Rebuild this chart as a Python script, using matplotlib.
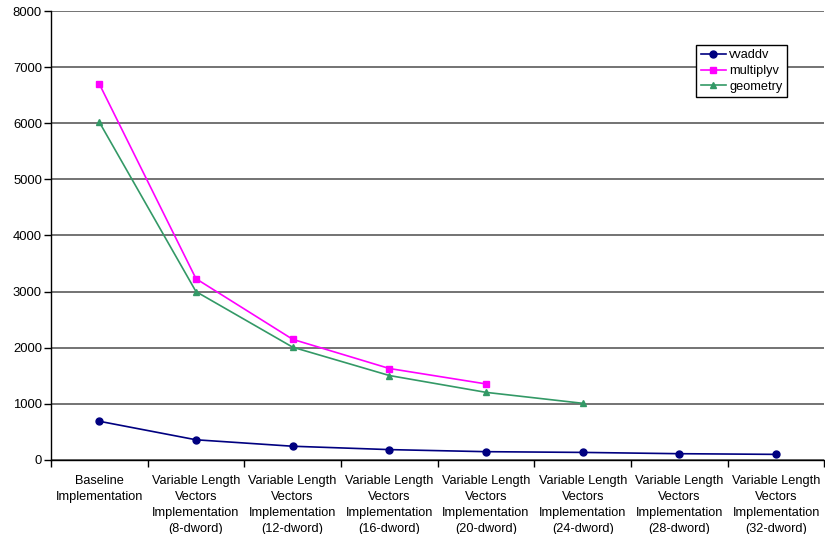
import numpy as np
import matplotlib.pyplot as plt
from matplotlib.ticker import FixedLocator, NullFormatter

plt.rcParams['font.family'] = ['Liberation Sans', 'DejaVu Sans']

categories = [
    "Baseline\nImplementation",
    "Variable Length\nVectors\nImplementation\n(8-dword)",
    "Variable Length\nVectors\nImplementation\n(12-dword)",
    "Variable Length\nVectors\nImplementation\n(16-dword)",
    "Variable Length\nVectors\nImplementation\n(20-dword)",
    "Variable Length\nVectors\nImplementation\n(24-dword)",
    "Variable Length\nVectors\nImplementation\n(28-dword)",
    "Variable Length\nVectors\nImplementation\n(32-dword)",
]
vvaddv = [690, 360, 245, 185, 148, 135, 112, 100]
multiplyv = [6700, 3230, 2150, 1630, 1355]
geometry = [6020, 3000, 2010, 1505, 1205, 1010]

fig = plt.figure(figsize=(8.25, 5.34), dpi=100)
ax = fig.add_axes([0.0618, 0.1386, 0.9375, 0.8408])

x = np.arange(len(categories))
ax.plot(x, vvaddv, color="#000080", marker="o", markersize=5, lw=1.2, label="vvaddv")
ax.plot(x[:len(multiplyv)], multiplyv, color="#FF00FF", marker="s", markersize=5, lw=1.2, label="multiplyv")
ax.plot(x[:len(geometry)], geometry, color="#339966", marker="^", markersize=5, lw=1.2, label="geometry")

ax.set_xlim(-0.5, len(categories) - 0.5)
ax.set_ylim(0, 8000)
ax.set_yticks(np.arange(0, 8001, 1000))
ax.yaxis.grid(True, color="#4d4d4d", lw=1.1)
ax.set_axisbelow(True)

# ticks at category boundaries, labels centered under each point
ax.xaxis.set_major_locator(FixedLocator(np.arange(-0.5, len(categories), 1.0)))
ax.xaxis.set_major_formatter(NullFormatter())
ax.xaxis.set_minor_locator(FixedLocator(x))
ax.set_xticklabels(categories, minor=True, fontsize=9.2, linespacing=1.42)
ax.tick_params(axis="x", which="minor", length=0, pad=11)
ax.tick_params(axis="x", which="major", length=5, direction="out", width=1)
ax.tick_params(axis="y", length=5, direction="out", width=1, labelsize=9.4, pad=1.5)

for s in ("top", "right"):
    ax.spines[s].set_visible(False)
for s in ("left", "bottom"):
    ax.spines[s].set_color("black")
    ax.spines[s].set_linewidth(1)

leg = ax.legend(loc="upper left", bbox_to_anchor=(0.834, 0.925), fontsize=9.2,
                fancybox=False, framealpha=1, edgecolor="black",
                handlelength=2.0, borderpad=0.35, labelspacing=0.3, handletextpad=0.25,
                borderaxespad=0)
leg.get_frame().set_linewidth(1)

fig.savefig("out.png", dpi=100)
